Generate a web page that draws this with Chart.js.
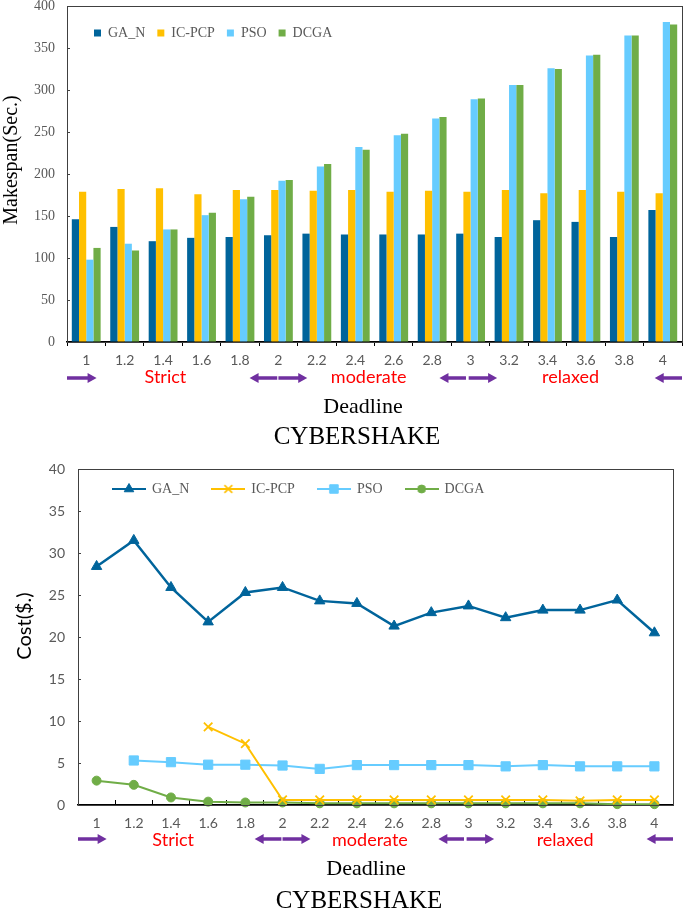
<!DOCTYPE html>
<html><head><meta charset="utf-8">
<script src="https://cdn.jsdelivr.net/npm/chart.js@4.4.1/dist/chart.umd.min.js"></script>
<style>
html,body{margin:0;padding:0;background:#fff;}
#wrap{position:relative;width:685px;height:911px;overflow:hidden;}
canvas{position:absolute;left:0;}
#c1{top:0;} #c2{top:450px;}
</style></head><body>
<div id="wrap"><canvas id="c1" width="685" height="450"></canvas><canvas id="c2" width="685" height="461"></canvas></div>
<script>
// ---------- data ----------
const deadlines = ['1','1.2','1.4','1.6','1.8','2','2.2','2.4','2.6','2.8','3','3.2','3.4','3.6','3.8','4'];
const seriesNames = ['GA_N','IC-PCP','PSO','DCGA'];
const makespanGAN   = [146,137,120,124,125,127,129,128,128,128,129,125,145,143,125,157];
const makespanICPCP = [179,182,183,176,181,181,180,181,179,180,179,181,177,181,179,177];
const makespanPSO   = [98,117,134,151,170,192,209,232,246,266,289,306,326,341,365,381];
const makespanDCGA  = [112,109,134,154,173,193,212,229,248,268,290,306,325,342,365,378];
const costGAN   = [28.4,31.5,25.9,21.8,25.3,25.9,24.3,24.0,21.3,22.9,23.7,22.3,23.2,23.2,24.4,20.5];
const costICPCP = [null,null,null,9.3,7.3,0.6,0.6,0.6,0.6,0.6,0.6,0.6,0.6,0.5,0.6,0.6];
const costPSO   = [null,5.3,5.1,4.8,4.8,4.7,4.3,4.75,4.75,4.75,4.75,4.6,4.75,4.6,4.6,4.6];
const costDCGA  = [2.9,2.4,0.9,0.4,0.3,0.3,0.2,0.2,0.2,0.2,0.2,0.2,0.2,0.2,0.1,0.1];
const regionNames = ['Strict','moderate','relaxed'];
const makespanTicks = {min:0, max:400, step:50};
const costTicks = {min:0, max:40, step:5};

// ---------- styles ----------
const colors = ['#00649B','#FFC000','#66CCFF','#70AD47'];
const SERIF = '"Liberation Serif", "Times New Roman", serif';
const SANS = 'Lato, "Open Sans", sans-serif';
const GRAY = '#595959';
// region annotation positions in category units
const regionLabelAt = [2.06, 7.35, 12.6];
const arrowSpans = [[-0.5,0.27,1],[4.25,4.97,-1],[5.0,5.75,1],[9.19,9.88,-1],[9.95,10.69,1],[14.79,15.5,-1]];

function drawArrow(ctx, x1, x2, y, dir) {
  const head = 9, half = 5, shaft = 1.8;
  ctx.beginPath();
  if (dir > 0) {
    ctx.moveTo(x1, y - shaft); ctx.lineTo(x2 - head, y - shaft); ctx.lineTo(x2 - head, y - half);
    ctx.lineTo(x2, y); ctx.lineTo(x2 - head, y + half); ctx.lineTo(x2 - head, y + shaft); ctx.lineTo(x1, y + shaft);
  } else {
    ctx.moveTo(x2, y - shaft); ctx.lineTo(x1 + head, y - shaft); ctx.lineTo(x1 + head, y - half);
    ctx.lineTo(x1, y); ctx.lineTo(x1 + head, y + half); ctx.lineTo(x1 + head, y + shaft); ctx.lineTo(x2, y + shaft);
  }
  ctx.closePath(); ctx.fill();
}

const annotPlugin = {
  id: 'annot',
  afterDraw(chart, args, o) {
    const ctx = chart.ctx, a = chart.chartArea, xs = chart.scales.x;
    ctx.save();
    ctx.strokeStyle = '#404040'; ctx.lineWidth = 1;
    ctx.strokeRect(Math.round(a.left) + 0.5, Math.round(a.top) + 0.5, Math.round(a.right - a.left), Math.round(a.bottom - a.top));
    ctx.fillStyle = '#FF0000'; ctx.font = '18px ' + SANS; ctx.textAlign = 'center'; ctx.textBaseline = 'middle';
    regionNames.forEach((t, i) => ctx.fillText(t, xs.getPixelForValue(regionLabelAt[i]), a.bottom + o.regionDy));
    ctx.fillStyle = '#7030A0';
    arrowSpans.forEach(s => drawArrow(ctx, xs.getPixelForValue(s[0]), xs.getPixelForValue(s[1]), a.bottom + o.arrowDy, s[2]));
    ctx.fillStyle = '#000';
    ctx.font = '22px ' + SERIF;
    ctx.fillText('Deadline', o.xTitleX, a.bottom + o.xTitleDy);
    ctx.font = '25px ' + SERIF;
    ctx.fillText('CYBERSHAKE', o.capX, a.bottom + o.capDy);
    ctx.translate(o.yTitleX, o.yTitleY); ctx.rotate(-Math.PI / 2);
    ctx.font = o.yTitleFont; ctx.fillText(o.yTitle, 0, 0);
    ctx.restore();
  }
};
// legend laid out as a horizontal row inside the plot area
const legendShift = {
  id: 'legendShift',
  beforeLayout(chart) {
    if (chart.legend) chart.legend.isHorizontal = () => true;
  },
  afterLayout(chart, args, o) {
    const l = chart.legend; if (!l) return;
    const w = l.right - l.left;
    l.left = chart.chartArea.left + o.dx; l.right = l.left + w;
    l.top += o.dy; l.bottom += o.dy;
  }
};

// ---------- chart 1: makespan ----------
new Chart(document.getElementById('c1'), {
  type: 'bar',
  data: {
    labels: deadlines,
    datasets: [makespanGAN, makespanICPCP, makespanPSO, makespanDCGA].map((d, i) => ({
      label: seriesNames[i], data: d, backgroundColor: colors[i], borderWidth: 0,
      categoryPercentage: 0.75, barPercentage: 1.0
    }))
  },
  options: {
    responsive: false, animation: false, devicePixelRatio: 1,
    layout: { padding: { top: 6, right: 3, left: 0, bottom: 0 } },
    scales: {
      x: {
        offset: true,
        grid: { display: true, drawOnChartArea: false, drawTicks: true, tickLength: 4, offset: true, color: '#000' },
        border: { display: true, color: '#000', width: 1.5 },
        ticks: { font: { family: SANS, size: 14 }, color: GRAY, padding: 6, maxRotation: 0, autoSkip: false },
        afterFit(s) { s.height = 108; s.paddingLeft = 0; s.paddingRight = 0; }
      },
      y: {
        min: makespanTicks.min, max: makespanTicks.max,
        ticks: { stepSize: makespanTicks.step, font: { family: SERIF, size: 14 }, color: GRAY, padding: 15 },
        grid: { drawOnChartArea: false, tickLength: -3, color: '#404040' },
        border: { display: true, color: '#404040', width: 1 },
        afterFit(s) { s.width = 67; s.paddingTop = 0; s.paddingBottom = 0; }
      }
    },
    plugins: {
      tooltip: { enabled: false },
      legend: {
        position: 'chartArea', align: 'start',
        labels: { boxWidth: 7, boxHeight: 7, padding: 12, color: GRAY, font: { family: SERIF, size: 14 } }
      },
      legendShift: { dx: 15, dy: 8 },
      annot: { regionDy: 35, arrowDy: 36, xTitleX: 363, xTitleDy: 65, capX: 357, capDy: 95,
               yTitle: 'Makespan(Sec.)', yTitleX: 12, yTitleY: 160, yTitleFont: '20px ' + SERIF }
    }
  },
  plugins: [legendShift, annotPlugin]
});

// ---------- chart 2: cost ----------
const pointStyles = ['triangle', 'crossRot', 'rect', 'circle'];
const pointRadii = [6, 6, 6.5, 4.5];
function makeIcon(i) {
  const c = document.createElement('canvas'); c.width = 34; c.height = 16;
  const g = c.getContext('2d');
  g.strokeStyle = colors[i]; g.fillStyle = colors[i]; g.lineWidth = 2;
  g.beginPath(); g.moveTo(0, 8); g.lineTo(34, 8); g.stroke();
  g.lineWidth = i === 1 ? 1.6 : 1;
  Chart.helpers.drawPoint(g, { pointStyle: pointStyles[i], radius: pointRadii[i] - 0.5, rotation: 0, borderWidth: g.lineWidth }, 17, 8);
  return c;
}
const icons = [0, 1, 2, 3].map(makeIcon);

new Chart(document.getElementById('c2'), {
  type: 'line',
  data: {
    labels: deadlines,
    datasets: [costGAN, costICPCP, costPSO, costDCGA].map((d, i) => ({
      label: seriesNames[i], data: d, borderColor: colors[i], backgroundColor: colors[i],
      borderWidth: i === 0 ? 2.5 : 2, tension: 0, clip: false,
      pointStyle: pointStyles[i], pointRadius: pointRadii[i], pointBackgroundColor: colors[i],
      pointBorderColor: colors[i], pointBorderWidth: i === 1 ? 1.8 : 1
    }))
  },
  options: {
    responsive: false, animation: false, devicePixelRatio: 1,
    layout: { padding: { top: 19, right: 12, left: 0, bottom: 0 } },
    scales: {
      x: {
        offset: true,
        grid: { display: true, drawOnChartArea: false, drawTicks: true, tickLength: -5, offset: true, color: '#000' },
        border: { display: true, color: '#000', width: 1.5 },
        ticks: { font: { family: SANS, size: 14 }, color: GRAY, padding: 15, maxRotation: 0, autoSkip: false },
        afterFit(s) { s.height = 106; s.paddingLeft = 0; s.paddingRight = 0; }
      },
      y: {
        min: costTicks.min, max: costTicks.max,
        ticks: { stepSize: costTicks.step, font: { family: SANS, size: 14 }, color: GRAY, padding: 16 },
        grid: { drawOnChartArea: false, tickLength: -3, color: '#404040' },
        border: { display: true, color: '#404040', width: 1 },
        afterFit(s) { s.width = 78; s.paddingTop = 0; s.paddingBottom = 0; }
      }
    },
    plugins: {
      tooltip: { enabled: false },
      legend: {
        position: 'chartArea', align: 'start',
        labels: {
          usePointStyle: true, pointStyleWidth: 32, padding: 23, color: GRAY, font: { family: SERIF, size: 14 },
          generateLabels(chart) {
            const items = Chart.defaults.plugins.legend.labels.generateLabels(chart);
            items.forEach((it, i) => { it.pointStyle = icons[i]; });
            return items;
          }
        }
      },
      legendShift: { dx: 12, dy: -10 },
      annot: { regionDy: 35, arrowDy: 34, xTitleX: 366, xTitleDy: 64, capX: 359, capDy: 96,
               yTitle: 'Cost($.)', yTitleX: 25, yTitleY: 176, yTitleFont: '20px ' + SANS }
    }
  },
  plugins: [legendShift, annotPlugin]
});
</script>
</body></html>
